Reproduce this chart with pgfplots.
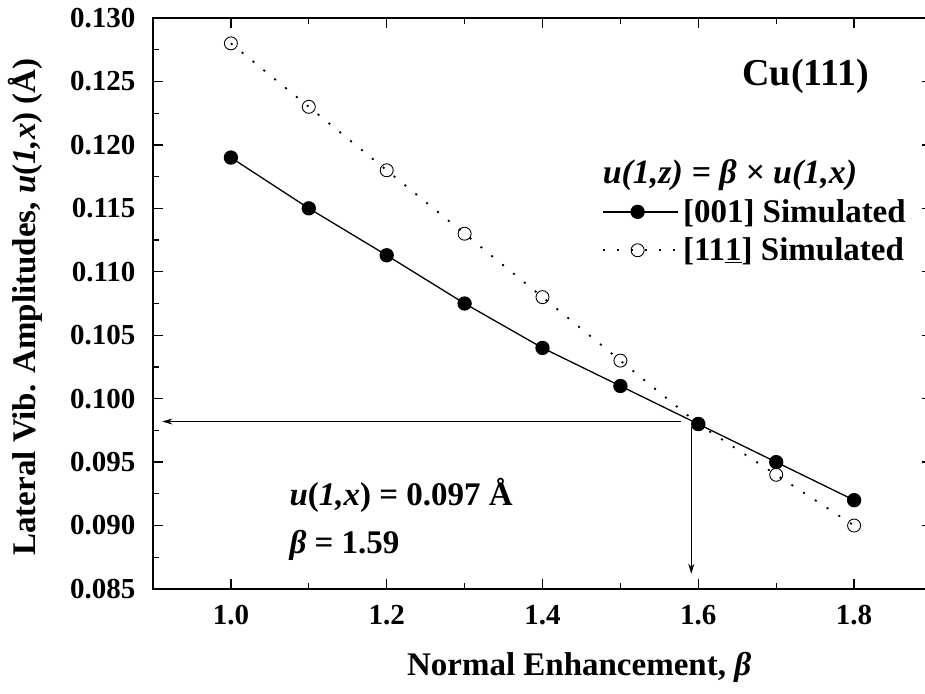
\documentclass[border=0pt]{standalone}
\usepackage{fontspec}
\setmainfont{Liberation Serif}
\usepackage{pgfplots}
\pgfplotsset{compat=1.18}
\usetikzlibrary{arrows.meta}

\pgfplotstableread{
x y
1.0 0.1190
1.1 0.1150
1.2 0.1113
1.3 0.1075
1.4 0.1040
1.5 0.1010
1.6 0.0980
1.7 0.0950
1.8 0.0920
}\filled
\pgfplotstableread{
x y
1.0 0.1280
1.1 0.1230
1.2 0.1180
1.3 0.1130
1.4 0.1080
1.5 0.1030
1.6 0.0980
1.7 0.0940
1.8 0.0900
}\open

\begin{document}
\begin{tikzpicture}
\begin{axis}[
  scale only axis, width=779pt, height=571pt,
  xmin=0.9, xmax=1.9, ymin=0.085, ymax=0.130,
  xtick={1.0,1.2,1.4,1.6,1.8},
  ytick={0.085,0.090,0.095,0.100,0.105,0.110,0.115,0.120,0.125,0.130},
  minor x tick num=1, minor y tick num=1,
  tick align=inside, major tick length=10pt, minor tick length=6pt,
  axis line style={line width=1.6pt},
  every tick/.style={line width=1.3pt, black},
  /pgf/number format/assume math mode=true,
  tick label style={font=\bfseries\fontsize{29}{32}\selectfont},
  yticklabel style={xshift=-14pt},
  xticklabel style={yshift=-13pt},
  xticklabel style={/pgf/number format/.cd, fixed, fixed zerofill, precision=1},
  yticklabel style={/pgf/number format/.cd, fixed, fixed zerofill, precision=3},
  scaled y ticks=false, scaled x ticks=false,
  xlabel={Normal Enhancement, \textit{β}},
  ylabel={Lateral Vib. Amplitudes, \textit{u}(\textit{1,x}) (Å)},
  label style={font=\bfseries\fontsize{33}{36}\selectfont},
  xlabel style={at={(axis description cs:0.547,-0.1366)}, anchor=center},
  ylabel style={at={(axis description cs:-0.1643,0.494)}, anchor=center},
  legend style={at={(axis cs:1.4764,0.1157)}, anchor=north west, draw=none, fill=none,
    font=\bfseries\fontsize{33}{36}\selectfont, row sep=14pt, inner sep=0pt,
    nodes={inner ysep=0pt, inner xsep=4pt}},
  legend cell align=left,
  legend image code/.code={\draw[mark repeat=2,mark phase=2,#1] plot coordinates {(0pt,0pt) (34.5pt,0pt) (69pt,0pt)};
    \path (0pt,0pt) -- (75pt,0pt);},
  clip=false,
]
\coordinate (O) at (rel axis cs:0,0);
\addplot[black, line width=1.3pt, mark=*, mark size=6.5pt, mark options={solid, fill=black}] table {\filled};
\addlegendentry{[001] Simulated}
\addplot[black, line width=1.8pt, dash pattern=on 2pt off 12pt, mark=o, mark size=6.5pt, mark options={solid, line width=0.9pt, fill=white}] table {\open};
\addlegendentry{[11\underline{1}] Simulated}

\node[font=\bfseries\itshape\fontsize{34}{38}\selectfont] at (axis cs:1.6407,0.1176) {u(1,z) = β × u(1,x)};
\node[font=\bfseries\fontsize{38}{42}\selectfont] at (axis cs:1.738,0.1254) {Cu(111)};
\node[font=\bfseries\fontsize{33}{36}\selectfont, anchor=west, inner sep=0pt] at (axis cs:1.075,0.09241) {\textit{u}(\textit{1,x}) = 0.097 Å};
\node[font=\bfseries\fontsize{33}{36}\selectfont, anchor=west, inner sep=0pt] at (axis cs:1.075,0.08847) {\textit{β} = 1.59};

\draw[-{Stealth[length=10pt,width=6pt]}, line width=0.9pt] (axis cs:1.578,0.0982) -- (axis cs:0.912,0.0982);
\draw[-{Stealth[length=10pt,width=6pt]}, line width=0.9pt] (axis cs:1.591,0.0978) -- (axis cs:1.591,0.0862);
\end{axis}
\pgfresetboundingbox
\path (O) ++(-153pt,-104pt) rectangle ++(925pt,693pt);
\end{tikzpicture}
\end{document}
